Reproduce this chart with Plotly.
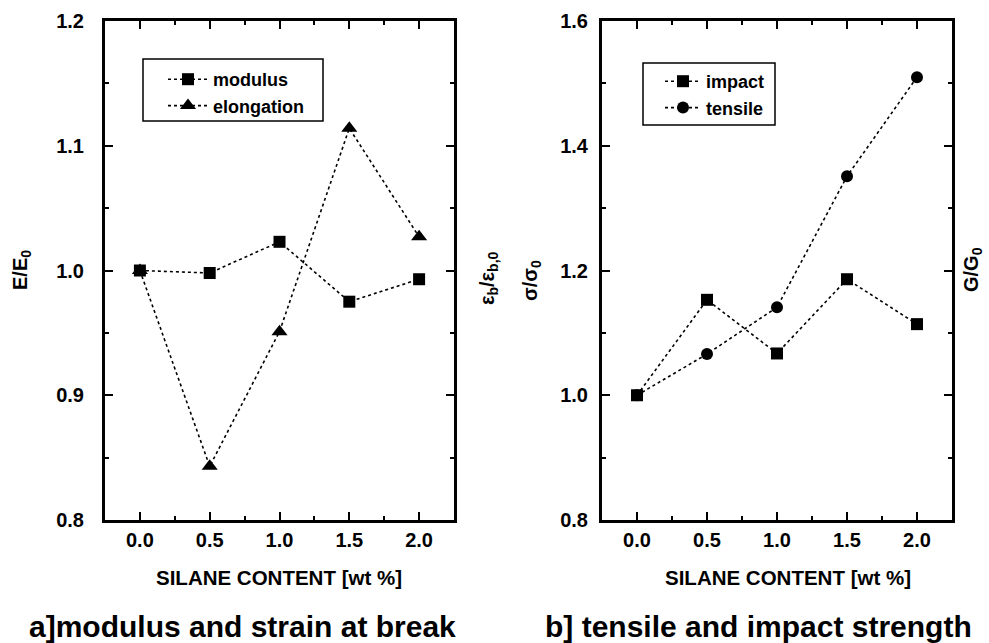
import plotly.graph_objects as go

silane = [0.0, 0.5, 1.0, 1.5, 2.0]
modulus = [1.000, 0.998, 1.023, 0.975, 0.993]
elongation = [1.000, 0.843, 0.951, 1.114, 1.027]
impact = [1.000, 1.153, 1.067, 1.186, 1.114]
tensile = [1.000, 1.066, 1.141, 1.351, 1.510]

W, H = 989, 643
FONT = "Liberation Sans"

fig = go.Figure()
line = dict(color="black", width=1.6, dash="dot")
fig.add_trace(go.Scatter(x=silane, y=modulus, name="modulus", mode="lines+markers",
                         line=line, marker=dict(symbol="square", size=12, color="black"),
                         xaxis="x", yaxis="y", legend="legend"))
fig.add_trace(go.Scatter(x=silane, y=elongation, name="elongation", mode="lines+markers",
                         line=line, marker=dict(symbol="triangle-up", size=14, color="black"),
                         xaxis="x", yaxis="y", legend="legend"))
fig.add_trace(go.Scatter(x=silane, y=impact, name="impact", mode="lines+markers",
                         line=line, marker=dict(symbol="square", size=12, color="black"),
                         xaxis="x2", yaxis="y2", legend="legend2"))
fig.add_trace(go.Scatter(x=silane, y=tensile, name="tensile", mode="lines+markers",
                         line=line, marker=dict(symbol="circle", size=12, color="black"),
                         xaxis="x2", yaxis="y2", legend="legend2"))

tickfont = dict(family=FONT, size=20, color="black", weight="bold")

def xax(domain, anchor):
    return dict(domain=domain, anchor=anchor, range=[-0.25, 2.25], tickmode="array",
                tickvals=[0, 0.5, 1.0, 1.5, 2.0], ticktext=["0.0", "0.5", "1.0", "1.5", "2.0"],
                ticks="inside", ticklen=8, tickwidth=2, tickcolor="black",
                minor=dict(ticks="inside", ticklen=4, tickwidth=2, dtick=0.25, tick0=0, tickcolor="black"),
                showline=True, linewidth=3, linecolor="black", mirror="ticks",
                showgrid=False, zeroline=False, tickfont=tickfont, automargin=False)

def yax(domain, anchor, rng, dtick, minor, ticktext, standoff):
    vals = [round(rng[0] + i * dtick, 3) for i in range(len(ticktext))]
    return dict(domain=domain, anchor=anchor, range=rng, tickmode="array",
                tickvals=vals, ticktext=ticktext,
                ticks="inside", ticklen=8, tickwidth=2, tickcolor="black",
                minor=dict(ticks="inside", ticklen=4, tickwidth=2, dtick=minor, tick0=rng[0], tickcolor="black"),
                showline=True, linewidth=3, linecolor="black", mirror="ticks",
                showgrid=False, zeroline=False, tickfont=tickfont,
                ticklabelstandoff=standoff, automargin=False)

ydom = [1 - 520 / H, 1 - 21 / H]
legfont = dict(family=FONT, size=18, color="black", weight="bold")
fig.update_layout(
    width=W, height=H, margin=dict(l=0, r=0, t=0, b=0, autoexpand=False),
    paper_bgcolor="white", plot_bgcolor="white",
    xaxis=xax([105 / W, 454 / W], "y"),
    yaxis=yax(ydom, "x", [0.8, 1.2], 0.1, 0.05, ["0.8", "0.9", "1.0", "1.1", "1.2"], 14),
    xaxis2=xax([602 / W, 952 / W], "y2"),
    yaxis2=yax(ydom, "x2", [0.8, 1.6], 0.2, 0.1, ["0.8", "1.0", "1.2", "1.4", "1.6"], 7),
    legend=dict(x=163 / W, y=1 - 61 / H, xanchor="left", yanchor="top",
                borderwidth=0, bgcolor="rgba(0,0,0,0)", font=legfont, itemwidth=40),
    legend2=dict(x=660 / W, y=1 - 63 / H, xanchor="left", yanchor="top",
                 borderwidth=0, bgcolor="rgba(0,0,0,0)", font=legfont, itemwidth=36),
)

# legend frames
for x0, x1, y0, y1 in [(143, 323, 59, 121), (643, 775, 63, 125)]:
    fig.add_shape(type="rect", xref="paper", yref="paper",
                  x0=x0 / W, x1=x1 / W, y0=1 - y1 / H, y1=1 - y0 / H,
                  line=dict(color="black", width=1.5), fillcolor="rgba(0,0,0,0)")

lab = dict(family=FONT, size=20, color="black", weight="bold")
def ann(text, x, y, angle=-90, font=lab):
    fig.add_annotation(text=text, x=x / W, y=1 - y / H, xref="paper", yref="paper",
                       showarrow=False, textangle=angle, font=font,
                       xanchor="center", yanchor="middle")

ann("E/E<sub>0</sub>", 21, 270)
ann("ε<sub>b</sub>/ε<sub>b,0</sub>", 489, 278)
ann("σ/σ<sub>0</sub>", 531, 281)
ann("G/G<sub>0</sub>", 972, 270)

xt = dict(family=FONT, size=20.5, color="black", weight="bold")
ann("SILANE CONTENT [wt %]", 279, 577, angle=0, font=xt)
ann("SILANE CONTENT [wt %]", 788, 577, angle=0, font=xt)

big = dict(family=FONT, size=30, color="black", weight="bold")
ann("a]modulus and strain at break", 242, 626, angle=0, font=big)
ann("b] tensile and impact strength", 758, 626, angle=0, font=big)

fig.write_html("out.html")
